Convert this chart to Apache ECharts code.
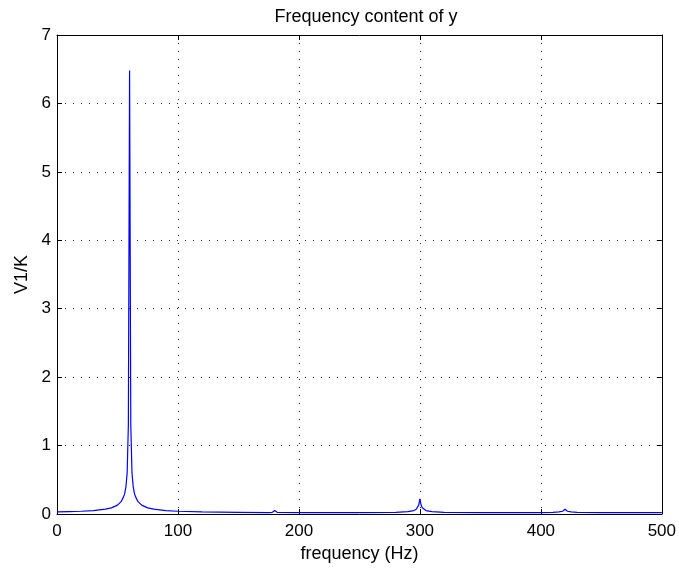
<!DOCTYPE html>
<html>
<head>
<meta charset="utf-8">
<script src="https://cdn.jsdelivr.net/npm/echarts@6/dist/echarts.min.js"></script>
<style>
html,body{margin:0;padding:0;background:#fff;}
#chart{width:679px;height:568px;}
</style>
</head>
<body>
<div id="chart"></div>
<script>
// Spectrum magnitude samples (frequency in Hz, amplitude V1/K)
var freqHz = [0, 10, 20, 30, 40, 45, 50, 53, 55, 56, 57, 58, 59, 60, 61, 62, 63, 64, 65, 67, 70, 75, 80, 90, 100, 120, 150, 175, 178, 179, 180, 181, 182, 200, 250, 280, 290, 295, 297, 298, 299, 300, 301, 302, 303, 305, 310, 320, 350, 400, 410, 415, 418, 419, 420, 421, 422, 425, 430, 450, 500];
var amplitude = [0.03, 0.035, 0.04, 0.05, 0.07, 0.09, 0.13, 0.18, 0.25, 0.3, 0.4, 0.6, 1.3, 6.48, 1.3, 0.6, 0.4, 0.3, 0.25, 0.18, 0.13, 0.09, 0.07, 0.05, 0.04, 0.03, 0.025, 0.02, 0.025, 0.03, 0.05, 0.03, 0.025, 0.02, 0.02, 0.025, 0.035, 0.05, 0.07, 0.09, 0.13, 0.22, 0.13, 0.09, 0.07, 0.05, 0.035, 0.025, 0.02, 0.02, 0.025, 0.03, 0.04, 0.05, 0.07, 0.05, 0.04, 0.03, 0.025, 0.02, 0.02];
var xTicks = [0, 100, 200, 300, 400, 500];
var yTicks = [0, 1, 2, 3, 4, 5, 6, 7];

var pts = freqHz.map(function (f, i) { return [f, amplitude[i]]; });
var font = 'Liberation Sans, Arial, Helvetica, sans-serif';

var chart = echarts.init(document.getElementById('chart'), null, {renderer: 'canvas'});
var gridLine = {show: true, lineStyle: {color: '#222', type: [1, 7], width: 1}};
var tickIn = {show: true, inside: true, length: 5, lineStyle: {color: '#000'}};
var axLine = {show: true, onZero: false, lineStyle: {color: '#000', width: 1}};

chart.setOption({
  animation: false,
  backgroundColor: '#fff',
  title: {
    text: 'Frequency content of y',
    left: 361, top: 3, textAlign: 'center',
    textStyle: {fontFamily: font, fontSize: 18, fontWeight: 'normal', color: '#000'}
  },
  grid: {left: 57, right: 14, top: 35, bottom: 54, containLabel: false},
  xAxis: [{
    type: 'value', min: xTicks[0], max: xTicks[xTicks.length - 1], interval: 100,
    name: 'frequency (Hz)', nameLocation: 'middle', nameGap: 30,
    nameTextStyle: {fontFamily: font, fontSize: 18, color: '#000'},
    axisLine: axLine, axisTick: tickIn, splitLine: gridLine,
    axisLabel: {fontFamily: font, fontSize: 17, color: '#000', margin: 9}
  }, {
    type: 'value', position: 'top', min: xTicks[0], max: xTicks[xTicks.length - 1], interval: 100,
    axisLine: axLine, axisTick: tickIn, splitLine: {show: false}, axisLabel: {show: false}
  }],
  yAxis: [{
    type: 'value', min: yTicks[0], max: yTicks[yTicks.length - 1], interval: 1,
    name: 'V1/K', nameLocation: 'middle', nameGap: 25, nameRotate: 90,
    nameTextStyle: {fontFamily: font, fontSize: 18, color: '#000'},
    axisLine: axLine, axisTick: tickIn, splitLine: gridLine,
    axisLabel: {fontFamily: font, fontSize: 17, color: '#000', margin: 6}
  }, {
    type: 'value', position: 'right', min: yTicks[0], max: yTicks[yTicks.length - 1], interval: 1,
    axisLine: axLine, axisTick: tickIn, splitLine: {show: false}, axisLabel: {show: false}
  }],
  series: [{
    type: 'line', data: pts, showSymbol: false, symbol: 'none',
    lineStyle: {color: '#0000ff', width: 1.2}, z: 5
  }]
});
</script>
</body>
</html>
